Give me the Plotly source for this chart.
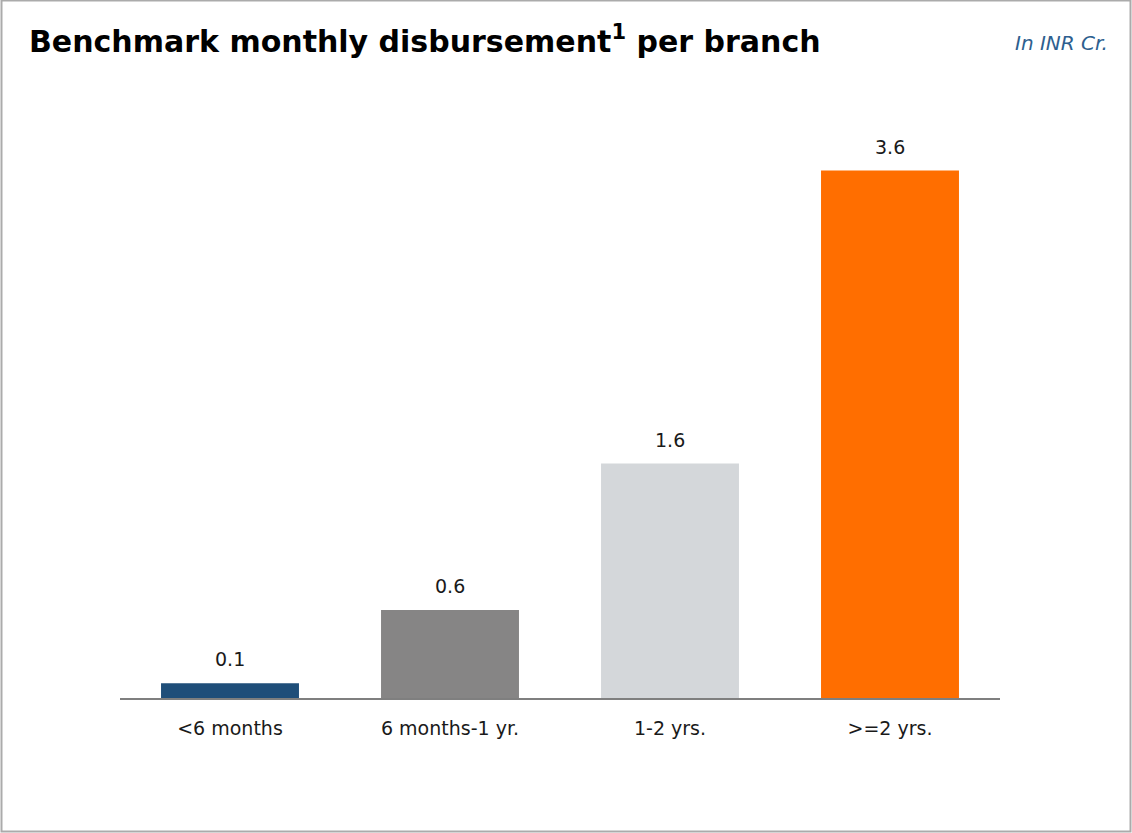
import plotly.graph_objects as go

# Branch vintage buckets and benchmark monthly disbursement (INR Cr.)
categories = ["<6 months", "6 months-1 yr.", "1-2 yrs.", ">=2 yrs."]
disbursement = [0.1, 0.6, 1.6, 3.6]
bar_colors = ["#1f4e79", "#868585", "#d4d7da", "#ff6e00"]

W, H = 1132, 833
ml, mr, mt, mb = 120, 132, 112, 135
pw, ph = W - ml - mr, H - mt - mb
FONT = "DejaVu Sans, Open Sans, sans-serif"

fig = go.Figure(
    go.Bar(
        x=categories,
        y=disbursement,
        marker=dict(color=bar_colors, line=dict(width=0)),
        hoverinfo="skip",
    )
)

# value labels sitting above each bar
value_labels = [
    dict(
        x=c,
        y=v,
        xref="x",
        yref="y",
        text=f"{v:.1f}",
        showarrow=False,
        yanchor="bottom",
        yshift=11,
        font=dict(size=19, color="#1a1a1a", family=FONT),
    )
    for c, v in zip(categories, disbursement)
]

fig.update_layout(
    width=W,
    height=H,
    margin=dict(l=ml, r=mr, t=mt, b=mb, pad=0),
    paper_bgcolor="white",
    plot_bgcolor="white",
    bargap=0.373,
    font=dict(family=FONT, color="#1a1a1a"),
    showlegend=False,
    xaxis=dict(
        showline=True,
        linecolor="#7f7f7f",
        linewidth=2,
        ticks="",
        showgrid=False,
        ticklabelstandoff=12,
        tickfont=dict(size=19, color="#1a1a1a", family=FONT),
    ),
    yaxis=dict(range=[0, 4], visible=False, showgrid=False, zeroline=False),
    shapes=[
        dict(
            type="rect",
            xref="paper",
            yref="paper",
            x0=-(ml - 1.5) / pw,
            x1=1 + (mr - 1.5) / pw,
            y0=-(mb - 1.5) / ph,
            y1=1 + (mt - 0.5) / ph,
            line=dict(color="#ababab", width=2),
            fillcolor="rgba(0,0,0,0)",
            layer="above",
        )
    ],
    annotations=value_labels
    + [
        dict(
            text="<b>Benchmark monthly disbursement<sup>1</sup> per branch</b>",
            xref="paper",
            yref="paper",
            x=-(ml - 27) / pw,
            y=1 + (mt - 40) / ph,
            xanchor="left",
            yanchor="middle",
            showarrow=False,
            font=dict(size=30, color="#000000", family=FONT),
        ),
        dict(
            text="<i>In INR Cr.</i>",
            xref="paper",
            yref="paper",
            x=1 + (mr - 22) / pw,
            y=1 + (mt - 43) / ph,
            xanchor="right",
            yanchor="middle",
            showarrow=False,
            font=dict(size=20, color="#2e5f8f", family=FONT),
        ),
    ],
)

fig.write_html("out.html")
